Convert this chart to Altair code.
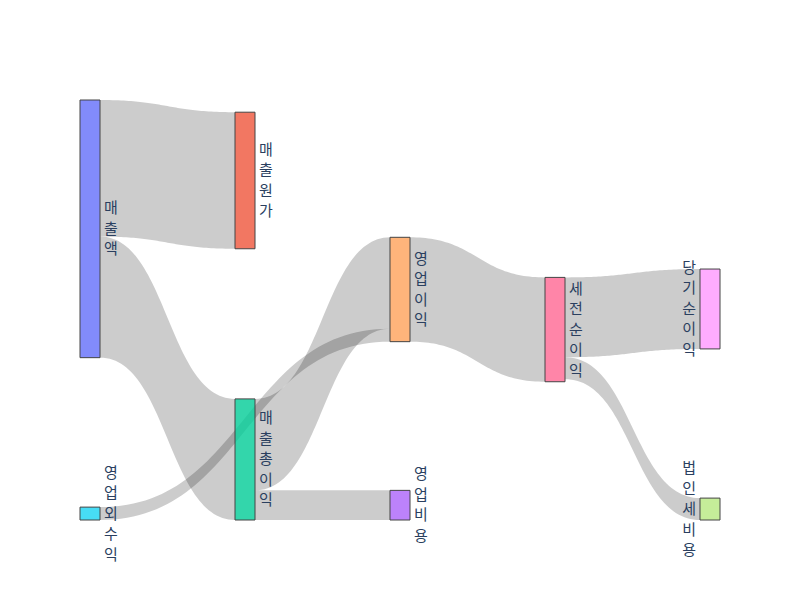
import altair as alt
import numpy as np
import pandas as pd

# ---- data ----
node_names = ["매출액", "매출원가", "매출총이익", "영업비용", "영업이익",
              "영업외수익", "세전순이익", "법인세비용", "당기순이익"]
node_colors = ["#636efa", "#EF553B", "#00cc96", "#ab63fa", "#FFA15A",
               "#19d3f3", "#FF6692", "#B6E880", "#FF97FF"]
link_source = ["매출액", "매출액", "매출총이익", "매출총이익", "영업외수익",
               "영업이익", "세전순이익", "세전순이익"]
link_target = ["매출원가", "매출총이익", "영업이익", "영업비용", "영업이익",
               "세전순이익", "당기순이익", "법인세비용"]
link_value = [530, 470, 355, 115, 50, 405, 310, 85]

# ---- layout parameters (vertical placement within free space: 0 top, 1 bottom) ----
node_yfrac = {"매출액": 0.0, "매출원가": 0.043, "매출총이익": 1.0, "영업비용": 1.0,
              "영업이익": 0.435, "영업외수익": 1.0, "세전순이익": 0.562,
              "법인세비용": 1.0, "당기순이익": 0.497}
Y_TOTAL = 1630.0
PLOT_W, PLOT_H = 640, 420
NODE_W = 20 / 155
LINE_H = 20.5

# node depth (longest path from sources)
depth = {n: 0 for n in node_names}
for _ in range(len(node_names)):
    for s, t in zip(link_source, link_target):
        depth[t] = max(depth[t], depth[s] + 1)
max_depth = max(depth.values())

vin = {n: 0 for n in node_names}
vout = {n: 0 for n in node_names}
for s, t, v in zip(link_source, link_target, link_value):
    vout[s] += v
    vin[t] += v
nval = {n: max(vin[n], vout[n]) for n in node_names}
top = {n: node_yfrac[n] * (Y_TOTAL - nval[n]) for n in node_names}

node_df = pd.DataFrame({
    "name": node_names,
    "col": [depth[n] for n in node_names],
    "x0": [depth[n] for n in node_names],
    "x1": [depth[n] + NODE_W for n in node_names],
    "top": [top[n] for n in node_names],
    "bot": [top[n] + nval[n] for n in node_names],
})
node_df["mid"] = (node_df["top"] + node_df["bot"]) / 2
node_df["vlabel"] = ["\n".join(list(n)) for n in node_names]
# first-line position so that the stacked label block is centred on the node
units_per_px = Y_TOTAL / PLOT_H
node_df["ly"] = node_df["mid"] - [(len(n) - 1) / 2 * LINE_H * units_per_px for n in node_names]

# link offsets
links = list(zip(range(len(link_value)), link_source, link_target, link_value))
src_off, tgt_off = {}, {}
for n in node_names:
    outs = sorted([l for l in links if l[1] == n], key=lambda l: top[l[2]])
    o = top[n]
    for l in outs:
        src_off[l[0]] = o
        o += l[3]
    ins = sorted([l for l in links if l[2] == n], key=lambda l: top[l[1]])
    o = top[n]
    for l in ins:
        tgt_off[l[0]] = o
        o += l[3]

T = np.linspace(0, 1, 61)
rows = []
for i, s, t, v in links:
    x0 = depth[s] + NODE_W
    x1 = depth[t]
    ys0, yt0 = src_off[i], tgt_off[i]
    for tt in T:
        sy = 3 * tt ** 2 - 2 * tt ** 3
        sx = 1.5 * tt * (1 - tt) + tt ** 3
        rows.append({
            "link": i,
            "x": x0 + (x1 - x0) * sx,
            "ya": ys0 + (yt0 - ys0) * sy,
            "yb": ys0 + v + (yt0 - ys0) * sy,
        })
link_df = pd.DataFrame(rows)

xs = alt.Scale(domain=[0, max_depth + NODE_W], nice=False, zero=False)
ys = alt.Scale(domain=[0, Y_TOTAL], reverse=True, nice=False, zero=False)

link_layer = alt.Chart(link_df).mark_area(
    color="black", opacity=0.2, interpolate="linear"
).encode(
    x=alt.X("x:Q", scale=xs, axis=None),
    y=alt.Y("ya:Q", scale=ys, axis=None),
    y2="yb:Q",
    detail="link:N",
)

node_layer = alt.Chart(node_df).mark_rect(
    stroke="#444", strokeWidth=1, fillOpacity=0.8
).encode(
    x=alt.X("x0:Q", scale=xs, axis=None),
    x2="x1:Q",
    y=alt.Y("top:Q", scale=ys, axis=None),
    y2="bot:Q",
    color=alt.Color("name:N", scale=alt.Scale(domain=node_names, range=node_colors), legend=None),
)

text_props = dict(baseline="middle", lineBreak="\n", lineHeight=LINE_H,
                  font="Noto Sans CJK KR", fontSize=15, color="#2a3f5f")

label_left = alt.Chart(node_df).transform_filter(
    f"datum.col < {max_depth}"
).mark_text(align="left", dx=4, **text_props).encode(
    x=alt.X("x1:Q", scale=xs, axis=None),
    y=alt.Y("ly:Q", scale=ys, axis=None),
    text="vlabel:N",
)
label_right = alt.Chart(node_df).transform_filter(
    f"datum.col == {max_depth}"
).mark_text(align="right", dx=-4, **text_props).encode(
    x=alt.X("x0:Q", scale=xs, axis=None),
    y=alt.Y("ly:Q", scale=ys, axis=None),
    text="vlabel:N",
)

chart = alt.layer(link_layer, node_layer, label_left, label_right).properties(
    width=PLOT_W, height=PLOT_H,
    padding={"left": 80, "top": 100, "right": 80, "bottom": 80},
    autosize=alt.AutoSizeParams(type="none"),
    background="white",
).configure_view(stroke=None)

chart.save("out.html", embed_options={"renderer": "svg", "actions": False})
